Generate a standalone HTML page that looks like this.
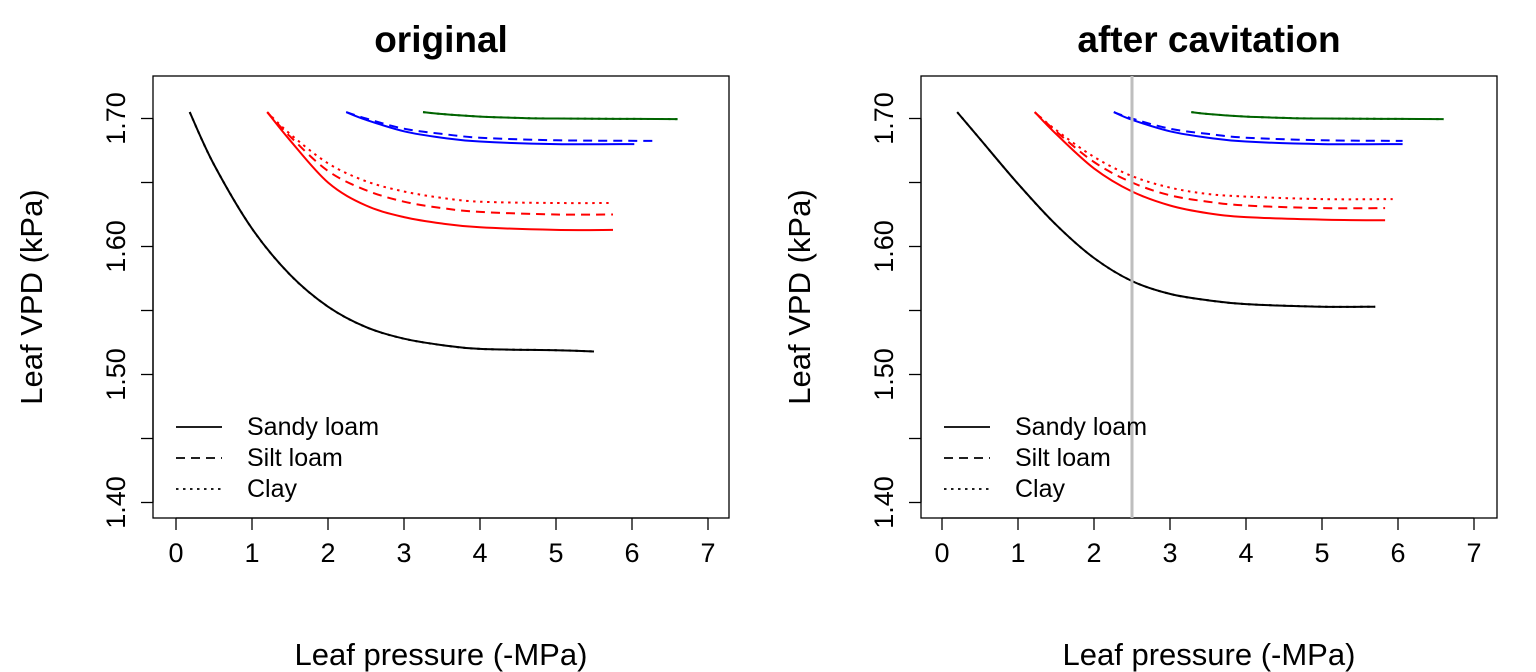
<!DOCTYPE html>
<html><head><meta charset="utf-8"><style>
html,body{margin:0;padding:0;background:#fff;}
svg{display:block;font-family:"Liberation Sans",Arial,sans-serif;}
</style></head><body>
<svg id="chart" width="1536" height="672" viewBox="0 0 1536 672"></svg>
<script>
const xTicks=[0,1,2,3,4,5,6,7];
const yTicks=[1.40,1.45,1.50,1.55,1.60,1.65,1.70];
const yTickLabels=["1.40","","1.50","","1.60","","1.70"];
const panelTitles=["original","after cavitation"];
const legendLabels=["Sandy loam","Silt loam","Clay"];
const cavitationX=2.5;
// original panel
const oBlackX=[0.18,0.5,1.0,1.5,2.0,2.5,3.0,3.5,4.0,5.0,5.5];
const oBlackY=[1.705,1.664,1.614,1.578,1.553,1.537,1.528,1.523,1.520,1.519,1.518];
const oRedSolidX=[1.2,1.5,2.0,2.5,3.0,3.5,4.0,5.0,5.75];
const oRedSolidY=[1.705,1.683,1.650,1.632,1.623,1.618,1.615,1.613,1.613];
const oRedDashX=[1.2,1.5,2.0,2.5,3.0,3.5,4.0,5.0,5.75];
const oRedDashY=[1.705,1.686,1.659,1.644,1.635,1.630,1.627,1.625,1.625];
const oRedDotX=[1.2,1.5,2.0,2.5,3.0,3.5,4.0,5.0,5.75];
const oRedDotY=[1.705,1.688,1.665,1.651,1.643,1.638,1.635,1.634,1.634];
const oBlueSolidX=[2.24,2.5,3.0,3.5,4.0,5.0,6.03];
const oBlueSolidY=[1.705,1.699,1.690,1.685,1.682,1.680,1.680];
const oBlueDashX=[2.24,2.5,3.0,3.5,4.0,5.0,6.3];
const oBlueDashY=[1.705,1.700,1.692,1.688,1.685,1.683,1.6825];
const oGreenX=[3.25,3.5,4.0,4.5,5.0,6.6];
const oGreenY=[1.705,1.7035,1.7015,1.7005,1.700,1.6995];
// after cavitation panel
const aBlackX=[0.2,0.5,1.0,1.5,2.0,2.5,3.0,3.5,4.0,5.0,5.7];
const aBlackY=[1.705,1.684,1.649,1.617,1.591,1.573,1.563,1.558,1.555,1.553,1.553];
const aRedSolidX=[1.22,1.5,2.0,2.5,3.0,3.5,4.0,5.0,5.83];
const aRedSolidY=[1.705,1.688,1.661,1.643,1.632,1.626,1.623,1.621,1.6205];
const aRedDashX=[1.22,1.5,2.0,2.5,3.0,3.5,4.0,5.0,5.83];
const aRedDashY=[1.705,1.690,1.666,1.650,1.640,1.635,1.632,1.630,1.630];
const aRedDotX=[1.22,1.5,2.0,2.5,3.0,3.5,4.0,5.0,5.93];
const aRedDotY=[1.705,1.691,1.670,1.655,1.646,1.641,1.639,1.637,1.637];
const aBlueSolidX=[2.26,2.5,3.0,3.5,4.0,5.0,6.06];
const aBlueSolidY=[1.705,1.699,1.690,1.685,1.682,1.680,1.680];
const aBlueDashX=[2.26,2.5,3.0,3.5,4.0,5.0,6.06];
const aBlueDashY=[1.705,1.700,1.692,1.688,1.685,1.683,1.6825];
const aGreenX=[3.28,3.5,4.0,4.5,5.0,6.6];
const aGreenY=[1.705,1.7035,1.7015,1.7005,1.700,1.6995];

const NS="http://www.w3.org/2000/svg";
const svg=document.getElementById('chart');
function mk(tag,attrs,parent){const e=document.createElementNS(NS,tag);for(const k in attrs)e.setAttribute(k,attrs[k]);(parent||svg).appendChild(e);return e;}
const panels=[
 {left:153,right:729,x0:176,ytl:118,ytitle:32,cx:441,title:panelTitles[0],series:[
  [oBlackX,oBlackY,"#000","solid"],[oBlackX,oBlackY,"#000","dot"],
  [oRedSolidX,oRedSolidY,"#f00","solid"],[oRedDashX,oRedDashY,"#f00","dash"],[oRedDotX,oRedDotY,"#f00","dot"],
  [oBlueSolidX,oBlueSolidY,"#00f","solid"],[oBlueDashX,oBlueDashY,"#00f","dash"],
  [oGreenX,oGreenY,"#006400","solid"],[oGreenX,oGreenY,"#006400","dot"]]},
 {left:921,right:1497,x0:942,ytl:886,ytitle:800,cx:1209,title:panelTitles[1],series:[
  [aBlackX,aBlackY,"#000","solid"],[aBlackX,aBlackY,"#000","dot"],
  [aRedSolidX,aRedSolidY,"#f00","solid"],[aRedDashX,aRedDashY,"#f00","dash"],[aRedDotX,aRedDotY,"#f00","dot"],
  [aBlueSolidX,aBlueSolidY,"#00f","solid"],[aBlueDashX,aBlueDashY,"#00f","dash"],
  [aGreenX,aGreenY,"#006400","solid"],[aGreenX,aGreenY,"#006400","dot"]],vline:true}
];
const TOP=76,BOT=518;
function smoothPath(pts){
  let d="M"+pts[0][0].toFixed(1)+","+pts[0][1].toFixed(1);
  for(let i=0;i<pts.length-1;i++){
    const p0=pts[Math.max(0,i-1)],p1=pts[i],p2=pts[i+1],p3=pts[Math.min(pts.length-1,i+2)];
    const c1=[p1[0]+(p2[0]-p0[0])/6,p1[1]+(p2[1]-p0[1])/6];
    const c2=[p2[0]-(p3[0]-p1[0])/6,p2[1]-(p3[1]-p1[1])/6];
    d+=" C"+c1[0].toFixed(1)+","+c1[1].toFixed(1)+" "+c2[0].toFixed(1)+","+c2[1].toFixed(1)+" "+p2[0].toFixed(1)+","+p2[1].toFixed(1);
  }
  return d;
}
const dashes={solid:"",dash:"9,6",dot:"2.5,4.5"};
panels.forEach((p,pi)=>{
  const xs=v=>p.x0+v*76;
  const ys=v=>118.5+(1.70-v)*1280;
  const g=mk('g',{});
  
  
  const box=mk('rect',{x:p.left,y:TOP,width:p.right-p.left,height:BOT-TOP,fill:'none',stroke:'#000','stroke-width':1.3},g);
  
  const t=mk('text',{x:p.cx,y:52,'text-anchor':'middle','font-size':37,'font-weight':'bold'},g);
  t.textContent=p.title;
  
  mk('line',{x1:xs(0),x2:xs(7),y1:BOT,y2:BOT,stroke:'#000','stroke-width':1.3},g);
  xTicks.forEach(v=>{
    mk('line',{x1:xs(v),x2:xs(v),y1:BOT,y2:BOT+12,stroke:'#000','stroke-width':1.3},g);
    const tx=mk('text',{x:xs(v),y:562,'text-anchor':'middle','font-size':27},g);
    tx.textContent=v;
    
  });
  mk('line',{x1:p.left,x2:p.left,y1:ys(1.40),y2:ys(1.70),stroke:'#000','stroke-width':1.3},g);
  yTicks.forEach((v,i)=>{
    mk('line',{x1:p.left-12,x2:p.left,y1:ys(v),y2:ys(v),stroke:'#000','stroke-width':1.3},g);
    if(yTickLabels[i]){
      const lx=p.ytl+7;
      const ty=mk('text',{x:lx,y:ys(v),'text-anchor':'middle','font-size':27,transform:`rotate(-90 ${lx} ${ys(v)})`},g);
      ty.textContent=yTickLabels[i];
      
    }
  });
  const xt=mk('text',{x:p.cx,y:665,'text-anchor':'middle','font-size':31},g);
  xt.textContent="Leaf pressure (-MPa)";
  
  const yx=p.ytitle+10;
  const yt=mk('text',{x:yx,y:297,'text-anchor':'middle','font-size':31,transform:`rotate(-90 ${yx} 297)`},g);
  yt.textContent="Leaf VPD (kPa)";
  
  p.series.forEach(s=>{
    const pts=s[0].map((x,i)=>[xs(x),ys(s[1][i])]);
    const path=mk('path',{d:smoothPath(pts),fill:'none',stroke:s[2],'stroke-width':2,'stroke-dasharray':dashes[s[3]]},g);
    
  });
  if(p.vline){
    const vl=mk('line',{x1:xs(cavitationX),x2:xs(cavitationX),y1:TOP,y2:BOT,stroke:'#bebebe','stroke-width':3},g);
    
  }
  ['solid','dash','dot'].forEach((st,i)=>{
    const y=427+i*31;
    const ll=mk('line',{x1:p.left+23,x2:p.left+69,y1:y,y2:y,stroke:'#000','stroke-width':1.8,'stroke-dasharray':dashes[st]},g);
    
    const lt=mk('text',{x:p.left+94,y:y+8,'font-size':25},g);
    lt.textContent=legendLabels[i];
    
  });
});
</script>
</body></html>
